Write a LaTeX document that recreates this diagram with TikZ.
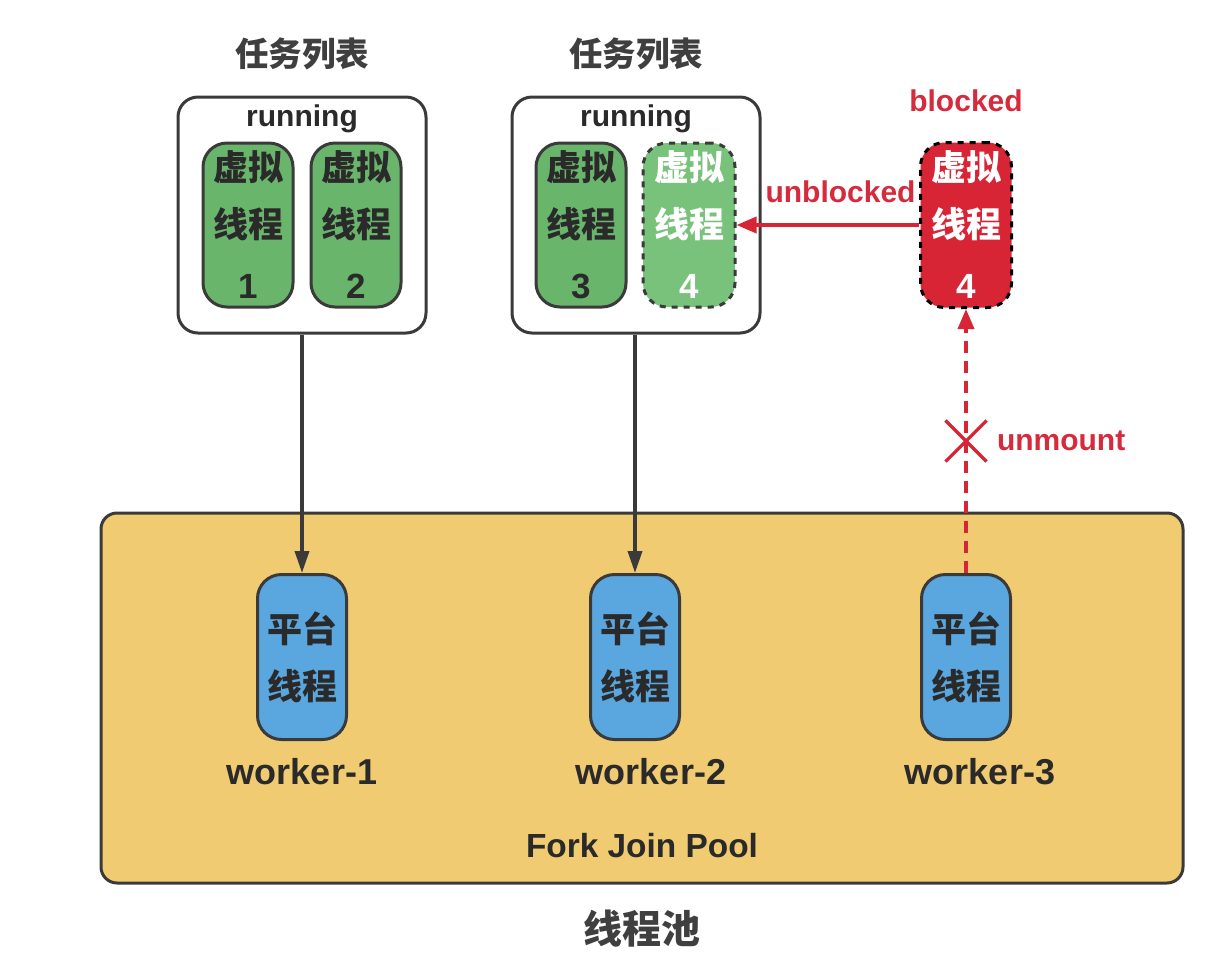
\documentclass[tikz,border=0pt]{standalone}
\usepackage{fontspec}
\setmainfont{Liberation Sans}
\newfontfamily\cjk{Noto Sans CJK SC}
\usetikzlibrary{arrows.meta, positioning, shapes.misc}
\definecolor{linecolor}{HTML}{3A3A3A}
\definecolor{textdark}{HTML}{2A2A2A}
\definecolor{vtgreen}{HTML}{69B56C}
\definecolor{vtlight}{HTML}{79C27C}
\definecolor{ptblue}{HTML}{5AA6DE}
\definecolor{poolyellow}{HTML}{F1CB72}
\definecolor{blockred}{HTML}{D82536}
\definecolor{redtxt}{HTML}{D62B3C}
\newcommand{\zhtext}[1]{{\cjk #1}}

\begin{document}
\begin{tikzpicture}[
  x=0.5pt, y=-0.5pt,
  tasklist/.style={
    rectangle, draw=linecolor, line width=1.5pt, rounded corners=10pt,
    fill=white, minimum width=124pt, minimum height=118pt
  },
  vthread/.style={
    rectangle, draw=linecolor, line width=1.5pt, rounded corners=12pt,
    fill=vtgreen, text=textdark, minimum width=45pt, minimum height=82pt,
    inner sep=0pt, align=center, font=\bfseries\fontsize{17.5}{28.5}\selectfont
  },
  pthread/.style={
    vthread, fill=ptblue, minimum width=44.5pt, minimum height=82.5pt
  },
  lbl/.style={inner sep=0pt, text=textdark, font=\bfseries\fontsize{15}{18}\selectfont},
  worker/.style={inner sep=0pt, text=textdark, font=\bfseries\fontsize{18}{20}\selectfont},
  title/.style={inner sep=0pt, text=textdark!90, font=\cjk\bfseries\fontsize{16.75}{20}\selectfont},
  arr/.style={-{Triangle[length=11pt, width=7pt]}, line width=1.8pt, linecolor},
  redarr/.style={-{Triangle[length=10pt, width=8pt]}, line width=1.8pt, blockred},
]
  \useasboundingbox (0,0) rectangle (1206,966);

  % Thread pool
  \node[rectangle, draw=linecolor, line width=1.5pt, rounded corners=8pt,
        fill=poolyellow, minimum width=541pt, minimum height=185pt] (pool) at (642,698) {};
  \node[lbl, font=\bfseries\fontsize{16.7}{20}\selectfont, above=13pt of pool.south] (fjp) {Fork Join Pool};
  \node[title, font=\cjk\bfseries\fontsize{19.5}{22}\selectfont, below=12.5pt of pool.south] (pooltitle) {线程池};

  % Platform threads
  \node[pthread] (pt1) at (302,657) {\zhtext{平台}\\\zhtext{线程}};
  \node[pthread] (pt2) at (635,657) {\zhtext{平台}\\\zhtext{线程}};
  \node[pthread] (pt3) at (966,657) {\zhtext{平台}\\\zhtext{线程}};
  \node[worker, below=8.5pt of pt1] (w1) {worker-1};
  \node[worker, below=8.5pt of pt2, xshift=8pt] (w2) {worker-2};
  \node[worker, below=8.5pt of pt3, xshift=7pt] (w3) {worker-3};

  % Task lists
  \node[tasklist] (tasksA) at (302,215) {};
  \node[tasklist] (tasksB) at (636,215) {};
  \node[title, above=12.5pt of tasksA] (titleA) {任务列表};
  \node[title, above=12.5pt of tasksB] (titleB) {任务列表};
  \node[lbl, below=4.5pt of tasksA.north] (runA) {running};
  \node[lbl, below=4.5pt of tasksB.north] (runB) {running};

  % Virtual threads
  \node[vthread] (vt1) at (248,225) {\zhtext{虚拟}\\\zhtext{线程}\\[2pt]1};
  \node[vthread] (vt2) at (356,225) {\zhtext{虚拟}\\\zhtext{线程}\\[2pt]2};
  \node[vthread] (vt3) at (581,225) {\zhtext{虚拟}\\\zhtext{线程}\\[2pt]3};
  \node[vthread, fill=vtlight, text=white, dashed, minimum width=46pt] (vt4) at (689,225)
    {\zhtext{虚拟}\\\zhtext{线程}\\[2pt]4};

  % Blocked virtual thread
  \node[vthread, fill=blockred, draw=black, text=white, dashed,
        minimum width=45.5pt, minimum height=82.5pt] (vtb) at (966,225)
    {\zhtext{虚拟}\\\zhtext{线程}\\[2pt]4};
  \node[lbl, text=redtxt, above=14.5pt of vtb] (blocked) {blocked};

  % Mounted
  \draw[arr] (tasksA.south) -- (pt1.north);
  \draw[arr] (tasksB.south -| pt2.north) -- (pt2.north);

  % Unblocked
  \draw[redarr] (vtb.west) -- (vt4.east)
    node[lbl, text=redtxt, pos=0.43, above=10pt] (unblk) {unblocked};

  % Unmount
  \draw[redarr, dash pattern=on 6pt off 4pt] (pt3.north) -- (vtb.south)
    node[cross out, draw=blockred, solid, line width=1.6pt, minimum size=19pt,
         inner sep=0pt, pos=0.5] (cut) {};
  \node[lbl, text=redtxt, right=5pt of cut] (unmount) {unmount};
\end{tikzpicture}
\end{document}
